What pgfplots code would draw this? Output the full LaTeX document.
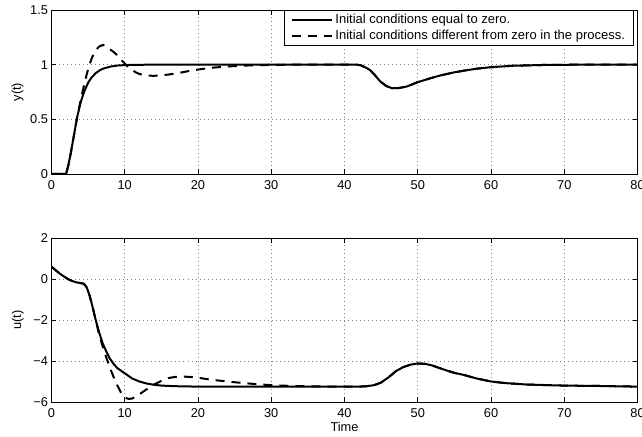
\documentclass[border=0pt]{standalone}
\usepackage{fontspec}
\setmainfont{Liberation Sans}
\usepackage{pgfplots}
\pgfplotsset{compat=1.18}
\begin{document}
\begin{tikzpicture}
\pgfplotsset{
  myax/.style={
    width=586bp, height=164bp, scale only axis,
    xmin=0, xmax=80,
    xtick={0,10,...,80}, xticklabels={0,10,20,30,40,50,60,70,80},
    grid=major,
    grid style={dash pattern=on 0.8bp off 3.2bp, gray, line width=0.6bp},
    tick align=inside, tick pos=both, major tick length=5bp,
    axis line style={line width=0.9bp},
    every tick/.style={black, line width=0.7bp},
    tick label style={font=\fontsize{12.8bp}{15bp}\selectfont},
    label style={font=\fontsize{12.8bp}{15bp}\selectfont},
    /pgf/number format/assume math mode=true,
    xticklabel style={yshift=-3.5bp},
    every axis plot/.append style={line width=2bp, black},
  }
}
% ---------- top axis ----------
\begin{axis}[myax, at={(0,228bp)},
  ymin=0, ymax=1.5, ytick={0,0.5,1,1.5}, yticklabels={0,0.5,1,1.5},
  ylabel={y(t)},
  ylabel style={at={(axis description cs:-0.0577,0.5)}, anchor=center},
  legend cell align=left,
  legend style={at={(rel axis cs:1,1)}, anchor=north east, xshift=-3.5bp,
    draw=black, line width=0.8bp, fill=white,
    font=\fontsize{13bp}{15bp}\selectfont,
    inner xsep=5.8bp, inner ysep=1.5bp, row sep=0bp,
    nodes={inner xsep=2.85bp, inner ysep=2.5bp}},
  legend image code/.code={\draw[#1] (0bp,0bp) -- (40bp,0bp);},
]
\addplot[solid] coordinates {
(0,0) (2,0) (2.3,0.08) (2.6,0.18) (3,0.33) (3.5,0.52) (4,0.66) (4.5,0.76)
(5,0.835) (5.5,0.885) (6,0.92) (6.5,0.945) (7,0.962) (8,0.982) (9,0.992)
(10,0.996) (12,0.999) (15,1) (41.6,1) (42.2,0.995) (43,0.97) (43.5,0.95)
(44.2,0.9) (44.9,0.845) (45.7,0.805) (46.5,0.784) (47.5,0.787) (48.5,0.8)
(50,0.84) (51.7,0.875) (53,0.9) (55,0.93) (56.3,0.945) (58,0.963)
(60,0.977) (63,0.99) (67,0.997) (72,1) (80,1)
};
\addlegendentry{Initial conditions equal to zero.}
\addplot[dash pattern=on 9bp off 7bp] coordinates {
(0,0) (2,0) (2.3,0.08) (2.6,0.18) (3,0.33) (3.5,0.52) (4,0.68) (4.5,0.83)
(5,0.96) (5.5,1.06) (6,1.13) (6.5,1.165) (7,1.18) (7.5,1.17) (8,1.14)
(8.5,1.115) (9,1.085) (9.5,1.045) (10,1.01) (10.5,0.975) (11,0.95)
(11.5,0.93) (12,0.915) (13,0.9) (14,0.898) (15,0.902) (16,0.91) (17,0.92)
(18,0.932) (19,0.945) (20,0.955) (21,0.965) (22,0.972) (23,0.978)
(25,0.987) (27,0.993) (30,0.998) (33,1) (41.6,1) (42.2,0.995) (43,0.97)
(43.5,0.95) (44.2,0.9) (44.9,0.845) (45.7,0.805) (46.5,0.784) (47.5,0.787)
(48.5,0.8) (50,0.84) (51.7,0.875) (53,0.9) (55,0.93) (56.3,0.945)
(58,0.963) (60,0.977) (63,0.99) (67,0.997) (72,1) (80,1)
};
\addlegendentry{Initial conditions different from zero in the process.}
\end{axis}
% ---------- bottom axis ----------
\begin{axis}[myax, at={(0,0)},
  ymin=-6, ymax=2, ytick={-6,-4,-2,0,2}, yticklabels={−6,−4,−2,0,2},
  ylabel={u(t)}, xlabel={Time},
  ylabel style={at={(axis description cs:-0.0577,0.5)}, anchor=center},
  xlabel style={at={(axis description cs:0.5,-0.152)}, anchor=center},
]
\addplot[solid] coordinates {
(0,0.6) (0.5,0.45) (1,0.3) (1.5,0.17) (2,0.05) (2.5,-0.05) (3,-0.12)
(3.5,-0.17) (4,-0.2) (4.4,-0.23) (4.8,-0.4) (5.2,-0.8) (5.6,-1.35)
(6,-1.95) (6.5,-2.6) (7,-3.15) (7.5,-3.55) (8,-3.9) (8.5,-4.15) (9,-4.35)
(10,-4.6) (11,-4.85) (12,-5.0) (13,-5.1) (14,-5.16) (15,-5.2) (17,-5.23)
(20,-5.25) (42,-5.25) (43,-5.23) (44,-5.18) (44.5,-5.12) (45,-5.05)
(46,-4.8) (47,-4.5) (48,-4.3) (49,-4.18) (50,-4.12) (51,-4.14) (52,-4.22)
(53,-4.35) (54,-4.47) (55,-4.58) (56.3,-4.68) (58,-4.85) (60,-5.0)
(62,-5.08) (65,-5.15) (70,-5.2) (75,-5.22) (80,-5.25)
};
\addplot[dash pattern=on 9bp off 7bp] coordinates {
(0,0.6) (0.5,0.45) (1,0.3) (1.5,0.17) (2,0.05) (2.5,-0.05) (3,-0.12)
(3.5,-0.17) (4,-0.2) (4.4,-0.23) (4.8,-0.4) (5.2,-0.8) (5.6,-1.35)
(6,-1.95) (6.5,-2.7) (7,-3.3) (7.5,-3.85) (8,-4.35) (8.5,-4.8) (9,-5.2)
(9.5,-5.55) (10,-5.78) (10.5,-5.85) (11,-5.83) (11.5,-5.75) (12,-5.62)
(12.5,-5.5) (13,-5.38) (14,-5.15) (15,-4.97) (16,-4.83) (17,-4.77)
(18,-4.76) (19,-4.78) (20,-4.82) (22,-4.92) (24,-5.0) (26,-5.07)
(28,-5.13) (30,-5.18) (33,-5.22) (36,-5.24) (40,-5.25) (42,-5.25)
(43,-5.23) (44,-5.18) (44.5,-5.12) (45,-5.05) (46,-4.8) (47,-4.5)
(48,-4.3) (49,-4.18) (50,-4.12) (51,-4.14) (52,-4.22) (53,-4.35)
(54,-4.47) (55,-4.58) (56.3,-4.68) (58,-4.85) (60,-5.0) (62,-5.08)
(65,-5.15) (70,-5.2) (75,-5.22) (80,-5.25)
};
\end{axis}
\pgfresetboundingbox
\path (-51.5bp,-35bp) rectangle (590.5bp,402bp);
\end{tikzpicture}
\end{document}
